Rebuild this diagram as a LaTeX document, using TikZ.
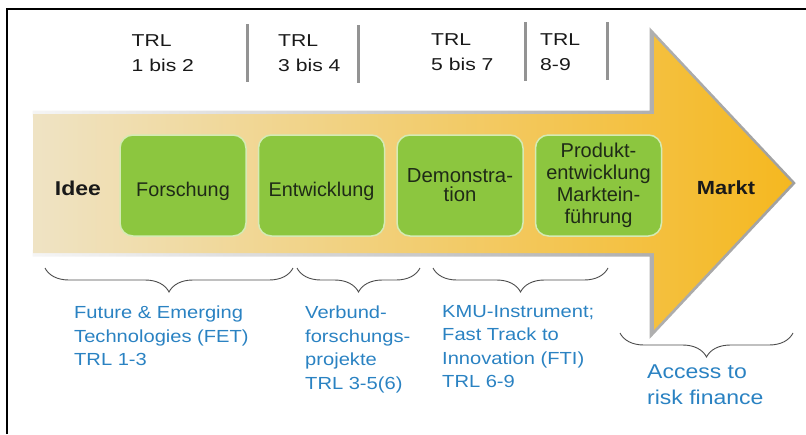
\documentclass[tikz,border=0pt]{standalone}
\usepackage{fontspec}
\setmainfont{Liberation Sans}[FakeStretch=1.15]
\newfontfamily\plainfont{Liberation Sans}
\newfontfamily\widefont{Liberation Sans}[FakeStretch=1.23]
\usetikzlibrary{decorations.pathreplacing,fadings}
\definecolor{greenbox}{HTML}{8CC63F}
\definecolor{greenedge}{HTML}{D5EBB5}
\definecolor{bluetxt}{HTML}{2A82C2}
\definecolor{cream}{HTML}{EFE3C4}
\definecolor{midyel}{HTML}{F7D36C}
\definecolor{orangey}{HTML}{F5B820}
\definecolor{boxtxt}{HTML}{1F2A17}
\tikzfading[name=arrowfade, left color=transparent!90, middle color=transparent!40, right color=transparent!0]
\begin{document}
\begin{tikzpicture}[x=1pt,y=-1pt,
  phase/.style={draw=greenedge, line width=1.5pt, fill=greenbox, rounded corners=13pt,
    minimum width=126pt, minimum height=101pt, inner sep=0pt},
  phasetxt/.style={anchor=north, inner sep=0pt, align=center, text=boxtxt},
  trl/.style={anchor=north west, inner sep=0pt, align=left,
    font=\widefont\fontsize{17.2}{25}\selectfont, text=black!90},
  sepline/.style={draw=gray!85, line width=3pt},
  prog/.style={anchor=north west, inner sep=0pt, align=left, text=bluetxt,
    font=\fontsize{17.5}{23.5}\selectfont},
  brc/.style={draw=black!70, line width=0.9pt, decorate,
    decoration={brace, mirror, amplitude=24pt}},
  endlabel/.style={inner sep=0pt, text=black!90, font=\bfseries\fontsize{20}{24}\selectfont},
]
\useasboundingbox (0,0) rectangle (806,434);
% frame
\draw[line width=1.6pt] (7,434) -- (7,9) -- (806,9);
% big arrow
\draw[draw=gray!75, line width=7pt, path fading=arrowfade]
  (33,114) -- (654,114) -- (654,36) -- (792,183) -- (654,330) -- (654,253) -- (33,253);
\shade[left color=cream, middle color=midyel, right color=orangey]
  (33,114) -- (654,114) -- (654,36) -- (792,183) -- (654,330) -- (654,253) -- (33,253) -- cycle;
% phases
\node[phase] (forsch) at (183,185.5) {};
\node[phase] (entw) at (321.5,185.5) {};
\node[phase] (demo) at (460,185.5) {};
\node[phase] (prod) at (598.5,185.5) {};
\node[phasetxt, font=\plainfont\fontsize{19.8}{23}\selectfont] (forschtxt) at (183,182) {Forschung};
\node[phasetxt, font=\plainfont\fontsize{19.8}{23}\selectfont] (entwtxt) at (321.5,182) {Entwicklung};
\node[phasetxt, font=\plainfont\fontsize{20.3}{19}\selectfont] (demotxt) at (460,168.3) {Demonstra-\\tion};
\node[phasetxt, font=\plainfont\fontsize{20}{22}\selectfont] (prodtxt) at (598.5,142.7) {Produkt-\\entwicklung\\Marktein-\\führung};
\node[endlabel] (idee) at (78,188) {Idee};
\node[endlabel, font=\bfseries\fontsize{19}{24}\selectfont] (markt) at (726,188) {Markt};
% TRL labels
\node[trl] (t1) at (131.5,34.3) {TRL\\1 bis 2};
\node[trl] (t2) at (278,34.3) {TRL\\3 bis 4};
\node[trl] (t3) at (431,33) {TRL\\5 bis 7};
\node[trl] (t4) at (540,33) {TRL\\8-9};
% separators
\coordinate (s1a) at (247,24); \coordinate (s1b) at (247,82);
\coordinate (s2a) at (358,25); \coordinate (s2b) at (358,83);
\coordinate (s3a) at (525,22); \coordinate (s3b) at (525,81);
\coordinate (s4a) at (607,22); \coordinate (s4b) at (607,80);
\draw[sepline] (s1a) -- (s1b);
\draw[sepline] (s2a) -- (s2b);
\draw[sepline] (s3a) -- (s3b);
\draw[sepline] (s4a) -- (s4b);
% braces
\coordinate (b1s) at (45,268);  \coordinate (b1e) at (293,268);
\coordinate (b2s) at (297,268); \coordinate (b2e) at (420,268);
\coordinate (b3s) at (433,268); \coordinate (b3e) at (608,268);
\coordinate (b4s) at (620,333); \coordinate (b4e) at (793,333);
\draw[brc] (b1s) -- (b1e);
\draw[brc] (b2s) -- (b2e);
\draw[brc] (b3s) -- (b3e);
\draw[brc] (b4s) -- (b4e);
% programmes
\node[prog] (p1) at (74,306) {Future \& Emerging\\Technologies (FET)\\TRL 1-3};
\node[prog] (p2) at (305,306) {Verbund-\\forschungs-\\projekte\\TRL 3-5(6)};
\node[prog] (p3) at (442,305) {KMU-Instrument;\\Fast Track to\\Innovation (FTI)\\TRL 6-9};
\node[prog, font=\fontsize{20}{26}\selectfont] (p4) at (647,365) {Access to\\risk finance};
\end{tikzpicture}
\end{document}
